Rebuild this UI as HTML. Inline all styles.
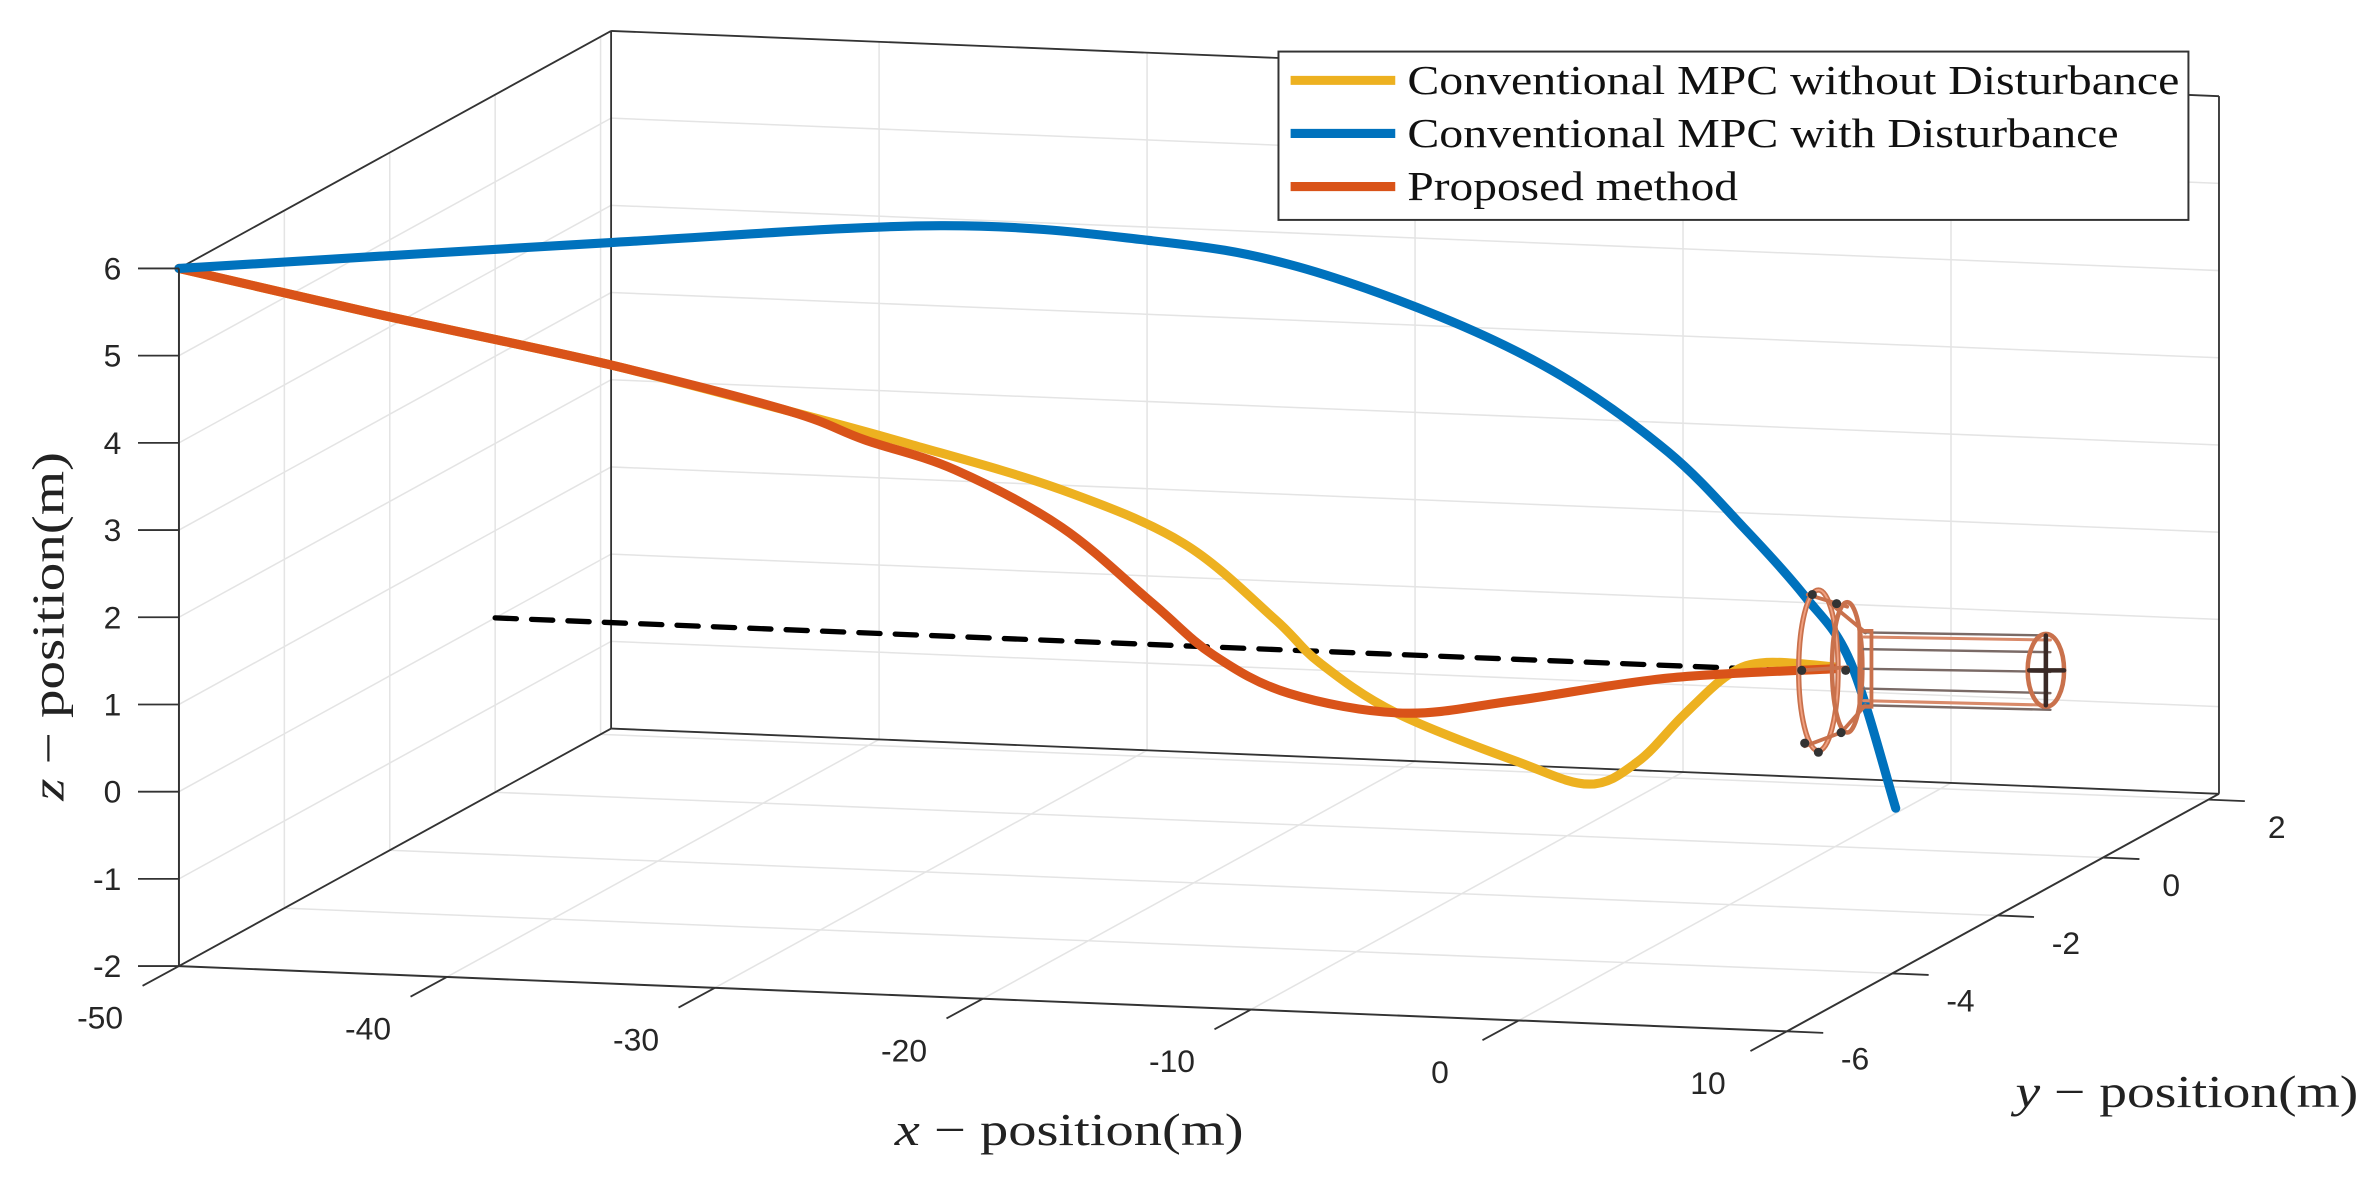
<!DOCTYPE html>
<html><head><meta charset="utf-8"><style>
html,body{margin:0;padding:0;background:#fff;}
svg{display:block;}
</style></head><body>
<svg id="chart" width="2378" height="1181" viewBox="0 0 1568 778.7" preserveAspectRatio="none" xmlns="http://www.w3.org/2000/svg">
<g id="grid"></g>
<g id="box"></g>
<g id="series"></g>
<g id="drone" fill="none" stroke-linecap="round">
  <ellipse cx="1199" cy="442" rx="13" ry="53" stroke="#c9714c" stroke-width="3.5"/>
  <ellipse cx="1199" cy="442" rx="13" ry="53" stroke="#f0a080" stroke-width="1.2"/>
  <ellipse cx="1218" cy="440" rx="10" ry="43" stroke="#c9714c" stroke-width="3"/>
  <path d="M1192 392 L1218 400 M1207 398 L1230 417 M1190 492 L1214 483 M1214 483 L1230 465 M1187 442 L1218 440" stroke="#c9714c" stroke-width="2.5"/>
  <path d="M1229 417 L1352 419 M1229 465 L1352 468 M1229 428 L1352 430 M1229 454 L1352 457 M1229 441 L1352 443" stroke="#7a6a66" stroke-width="1.6"/>
  <path d="M1229 420 L1352 422 M1229 462 L1352 465" stroke="#d98a6a" stroke-width="2"/>
  <rect x="1226" y="416" width="8" height="50" stroke="#c9714c" stroke-width="2.5"/>
  <ellipse cx="1349" cy="442" rx="12" ry="24" stroke="#c9714c" stroke-width="3"/>
  <path d="M1349 419 L1349 465 M1338 442 L1361 442" stroke="#3a2a26" stroke-width="3"/>
  <g fill="#333" stroke="none">
    <circle cx="1195" cy="392" r="3"/><circle cx="1211" cy="398" r="3"/><circle cx="1188" cy="442" r="3"/>
    <circle cx="1217" cy="442" r="3"/><circle cx="1190" cy="490" r="3"/><circle cx="1214" cy="483" r="3"/><circle cx="1199" cy="496" r="3"/>
  </g>
</g>
<g id="front"></g>
<g id="ticks"></g>
<g id="legend">
  <rect x="843" y="34" width="600" height="111" fill="#fff" stroke="#333" stroke-width="1.3"/>
  <line x1="851" y1="53" x2="920" y2="53" stroke="#EDB120" stroke-width="6"/>
  <line x1="851" y1="88" x2="920" y2="88" stroke="#0072BD" stroke-width="6"/>
  <line x1="851" y1="123" x2="920" y2="123" stroke="#D95319" stroke-width="6"/>
  <text x="928" y="62" font-family="Liberation Serif, serif" font-size="27" textLength="509" lengthAdjust="spacingAndGlyphs" fill="#111">Conventional MPC without Disturbance</text>
  <text x="928" y="97" font-family="Liberation Serif, serif" font-size="27" textLength="469" lengthAdjust="spacingAndGlyphs" fill="#111">Conventional MPC with Disturbance</text>
  <text x="928" y="132" font-family="Liberation Serif, serif" font-size="27" textLength="218" lengthAdjust="spacingAndGlyphs" fill="#111">Proposed method</text>
</g>
<text x="705" y="755" text-anchor="middle" font-family="Liberation Serif, serif" font-size="30" textLength="230" lengthAdjust="spacingAndGlyphs" fill="#222"><tspan font-style="italic">x</tspan> − position(m)</text>
<text x="1442" y="730" text-anchor="middle" font-family="Liberation Serif, serif" font-size="30" textLength="226" lengthAdjust="spacingAndGlyphs" fill="#222"><tspan font-style="italic">y</tspan> − position(m)</text>
<text transform="translate(42,413) rotate(-90)" text-anchor="middle" font-family="Liberation Serif, serif" font-size="30" textLength="230" lengthAdjust="spacingAndGlyphs" fill="#222"><tspan font-style="italic">z</tspan> − position(m)</text>
</svg>
<script>
// axis limits / ticks
const xTicks = [-50, -40, -30, -20, -10, 0, 10];
const yTicks = [-6, -4, -2, 0, 2];
const zTicks = [-2, -1, 0, 1, 2, 3, 4, 5, 6];
const xLim = [-50, 10];
const yLim = [-6, 2.2];
const zLim = [-2, 6];
// series: conventional MPC without disturbance
const withoutX = [-50, -43.96, -37.09, -31.59, -27.93, -23.35, -19.69, -16.94, -15.57, -13.28, -9.62, -7.42, -5.95, -4.58, -3.21, -2.06, 0];
const withoutY = [-6, -5.28, -4.45, -3.79, -3.35, -2.80, -2.36, -2.03, -1.87, -1.59, -1.15, -0.89, -0.71, -0.55, -0.39, -0.25, 0];
const withoutZ = [6, 5.31, 4.55, 3.86, 3.38, 2.73, 2.02, 1.08, 0.54, -0.10, -0.76, -1.08, -0.86, -0.37, 0.06, 0.17, 0.06];
// series: conventional MPC with disturbance
const withX = [-50, -37.09, -27.01, -20.6, -16.48, -11.9, -8.24, -5.04, -2.75, -0.92, 0.46, 1.83];
const withY = [-6, -4.45, -3.24, -2.47, -1.98, -1.43, -0.99, -0.60, -0.33, -0.11, 0.06, 0.22];
const withZ = [6, 5.94, 5.86, 5.51, 5.13, 4.40, 3.62, 2.66, 1.73, 0.90, 0.10, -1.61];
// series: proposed method
const propX = [-50, -43.96, -37.09, -31.59, -29.3, -26.56, -23.35, -20.6, -18.77, -16.48, -13.05, -9.62, -5.04, 0];
const propY = [-6, -5.28, -4.45, -3.79, -3.52, -3.19, -2.80, -2.47, -2.25, -1.98, -1.57, -1.15, -0.60, 0];
const propZ = [6, 5.31, 4.55, 3.86, 3.47, 3.05, 2.30, 1.35, 0.71, 0.21, -0.11, -0.06, 0.07, 0.04];
// reference (dashed) line
const refX = [-50, -2];
const refY = [0, 0];
const refZ = [0, 0];

const NS = 'http://www.w3.org/2000/svg';
function P(x, y, z) {
  const X = x - xLim[0], Y = y - yLim[0], Z = z - zLim[0];
  return [118 + X * 17.67 + Y * 34.75, 637 + X * 0.717 - Y * 19.1 - Z * 57.5];
}
function line(g, a, b, stroke, w, name) {
  const l = document.createElementNS(NS, 'line');
  l.setAttribute('x1', a[0]); l.setAttribute('y1', a[1]);
  l.setAttribute('x2', b[0]); l.setAttribute('y2', b[1]);
  l.setAttribute('stroke', stroke); l.setAttribute('stroke-width', w);
  
  
  g.appendChild(l);
  return l;
}
const grid = document.getElementById('grid');
const gc = '#e4e4e4';
zTicks.forEach(z => {
  line(grid, P(xLim[0], yLim[1], z), P(xLim[1], yLim[1], z), gc, 1, 'back-wall-grid-z');
  line(grid, P(xLim[0], yLim[0], z), P(xLim[0], yLim[1], z), gc, 1, 'left-wall-grid-z');
});
xTicks.forEach(x => {
  line(grid, P(x, yLim[1], zLim[0]), P(x, yLim[1], zLim[1]), gc, 1, 'back-wall-grid-x');
  line(grid, P(x, yLim[0], zLim[0]), P(x, yLim[1], zLim[0]), gc, 1, 'floor-grid-x');
});
yTicks.forEach(y => {
  line(grid, P(xLim[0], y, zLim[0]), P(xLim[0], y, zLim[1]), gc, 1, 'left-wall-grid-y');
  line(grid, P(xLim[0], y, zLim[0]), P(xLim[1], y, zLim[0]), gc, 1, 'floor-grid-y');
});
const box = document.getElementById('box');
const ec = '#333';
line(box, P(xLim[0], yLim[1], zLim[0]), P(xLim[0], yLim[1], zLim[1]), ec, 1.2, 'back-left-edge');
line(box, P(xLim[1], yLim[1], zLim[0]), P(xLim[1], yLim[1], zLim[1]), ec, 1.2, 'back-right-edge');
line(box, P(xLim[0], yLim[1], zLim[1]), P(xLim[1], yLim[1], zLim[1]), ec, 1.2, 'back-top-edge');
line(box, P(xLim[0], yLim[1], zLim[0]), P(xLim[1], yLim[1], zLim[0]), ec, 1.2, 'back-bottom-edge');
line(box, P(xLim[0], yLim[0], zLim[1]), P(xLim[0], yLim[1], zLim[1]), ec, 1.2, 'top-left-edge');
line(box, P(xLim[0], yLim[0], zLim[0]), P(xLim[0], yLim[1], zLim[0]), ec, 1.2, 'floor-left-edge');

function smoothPath(xs, ys, zs) {
  const pts = xs.map((x, i) => P(x, ys[i], zs[i]));
  let d = 'M' + pts[0][0].toFixed(1) + ' ' + pts[0][1].toFixed(1);
  for (let i = 0; i < pts.length - 1; i++) {
    const p0 = pts[Math.max(0, i - 1)], p1 = pts[i], p2 = pts[i + 1], p3 = pts[Math.min(pts.length - 1, i + 2)];
    const c1 = [p1[0] + (p2[0] - p0[0]) / 6, p1[1] + (p2[1] - p0[1]) / 6];
    const c2 = [p2[0] - (p3[0] - p1[0]) / 6, p2[1] - (p3[1] - p1[1]) / 6];
    d += ' C' + c1[0].toFixed(1) + ' ' + c1[1].toFixed(1) + ' ' + c2[0].toFixed(1) + ' ' + c2[1].toFixed(1) + ' ' + p2[0].toFixed(1) + ' ' + p2[1].toFixed(1);
  }
  return d;
}
const series = document.getElementById('series');
function addPath(d, color, w, name, dash) {
  const p = document.createElementNS(NS, 'path');
  p.setAttribute('d', d);
  p.setAttribute('fill', 'none');
  p.setAttribute('stroke', color);
  p.setAttribute('stroke-width', w);
  p.setAttribute('stroke-linecap', 'round');
  p.setAttribute('stroke-linejoin', 'round');
  if (dash) p.setAttribute('stroke-dasharray', dash);
  
  
  series.appendChild(p);
}
const r0 = P(refX[0], refY[0], refZ[0]), r1 = P(refX[1], refY[1], refZ[1]);
addPath('M' + r0[0] + ' ' + r0[1] + ' L' + r1[0] + ' ' + r1[1], '#000', 3.5, 'reference-dashed-line', '14 10');
addPath(smoothPath(withoutX, withoutY, withoutZ), '#EDB120', 6, 'mpc-without-disturbance-line');
addPath(smoothPath(propX, propY, propZ), '#D95319', 6, 'proposed-method-line');
addPath(smoothPath(withX, withY, withZ), '#0072BD', 6, 'mpc-with-disturbance-line');

const front = document.getElementById('front');
line(front, P(xLim[0], yLim[0], zLim[0]), P(xLim[0], yLim[0], zLim[1]), ec, 1.3, 'front-left-edge');
line(front, P(xLim[0], yLim[0], zLim[0]), P(xLim[1], yLim[0], zLim[0]), ec, 1.3, 'front-bottom-edge');
line(front, P(xLim[1], yLim[0], zLim[0]), P(xLim[1], yLim[1], zLim[0]), ec, 1.3, 'right-floor-edge');

const ticks = document.getElementById('ticks');
function label(x, y, s, name, anchor) {
  const t = document.createElementNS(NS, 'text');
  t.setAttribute('x', x); t.setAttribute('y', y);
  t.setAttribute('text-anchor', anchor || 'middle');
  t.setAttribute('dominant-baseline', 'central');
  t.setAttribute('font-family', 'Liberation Sans, sans-serif');
  t.setAttribute('font-size', '21');
  t.setAttribute('fill', '#262626');
  t.textContent = s;
  
  
  ticks.appendChild(t);
}
zTicks.forEach(z => {
  const p = P(xLim[0], yLim[0], z);
  line(ticks, [p[0] - 27, p[1]], p, ec, 1.2, 'z-tick');
  label(p[0] - 38, p[1], String(z), 'z-tick-label', 'end');
});
xTicks.forEach(x => {
  const p = P(x, yLim[0], zLim[0]);
  line(ticks, [p[0] - 24, p[1] + 13], p, ec, 1.2, 'x-tick');
  label(p[0] - 52, p[1] + 34, String(x), 'x-tick-label');
});
yTicks.forEach(y => {
  const p = P(xLim[1], y, zLim[0]);
  line(ticks, p, [p[0] + 24, p[1] + 1], ec, 1.2, 'y-tick');
  label(p[0] + 45, p[1] + 18, String(y), 'y-tick-label');
});
</script>
</body></html>
